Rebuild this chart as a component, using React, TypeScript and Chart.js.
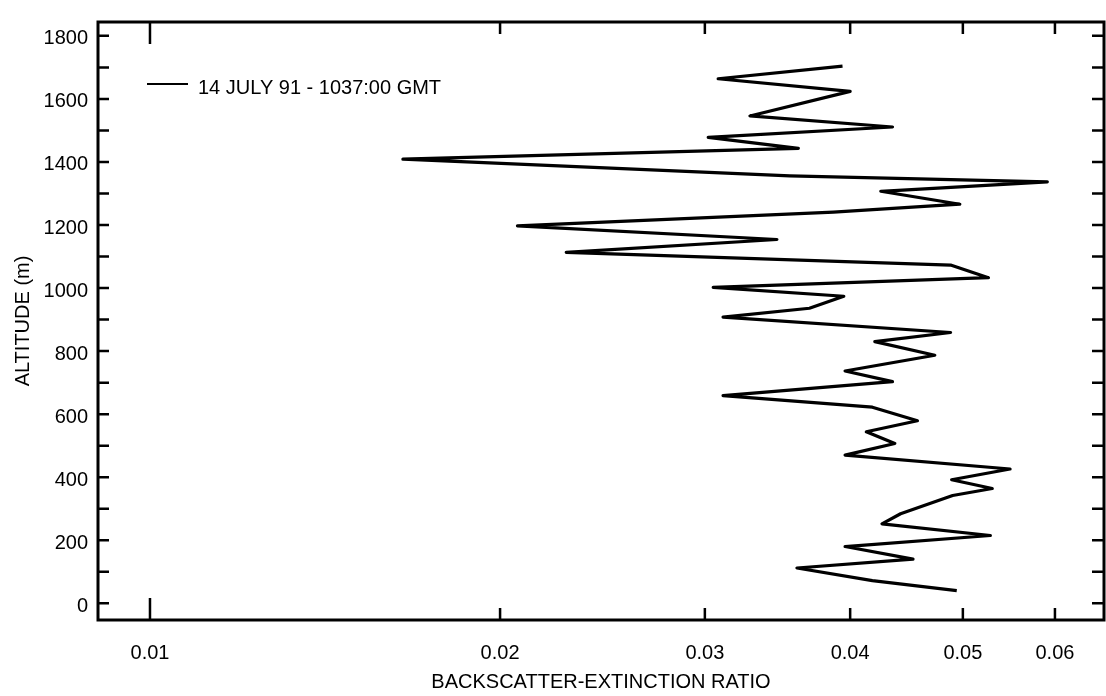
import React, { useEffect, useRef } from "react";
import { Chart, registerables } from "chart.js";

Chart.register(...registerables);

// Altitude (m) of each profile vertex, top to bottom
const altitudes = [
  1704, 1664, 1624, 1546, 1511, 1478, 1443, 1409, 1356, 1337, 1307, 1266, 1241,
  1197, 1154, 1113, 1073, 1033, 1002, 974, 936, 908, 859, 830, 787, 737, 703,
  659, 622, 579, 544, 507, 470, 426, 392, 364, 342, 284, 252, 215, 180, 140,
  112, 72, 40,
];

// Backscatter-extinction ratio at each vertex
const ratios = [
  0.0394, 0.0308, 0.04, 0.0328, 0.0435, 0.0302, 0.0361, 0.0165, 0.0355, 0.0591,
  0.0425, 0.0497, 0.0387, 0.0207, 0.0346, 0.0228, 0.0488, 0.0526, 0.0305,
  0.0395, 0.0369, 0.0311, 0.0488, 0.042, 0.0473, 0.0396, 0.0435, 0.0311,
  0.0418, 0.0457, 0.0413, 0.0437, 0.0396, 0.0549, 0.0489, 0.053, 0.049,
  0.0442, 0.0426, 0.0528, 0.0396, 0.0453, 0.036, 0.0418, 0.0494,
];

const xTickValues = [0.01, 0.02, 0.03, 0.04, 0.05, 0.06];
const xTickLabels = ["0.01", "0.02", "0.03", "0.04", "0.05", "0.06"];
const yTickValues = [0, 200, 400, 600, 800, 1000, 1200, 1400, 1600, 1800];
const yMinorTicks = [
  0, 100, 200, 300, 400, 500, 600, 700, 800, 900, 1000, 1100, 1200, 1300, 1400,
  1500, 1600, 1700, 1800,
];
const seriesLabel = "14 JULY 91 - 1037:00 GMT";
const xTitle = "BACKSCATTER-EXTINCTION RATIO";
const yTitle = "ALTITUDE (m)";

const FONT = "'Liberation Sans', Arial, Helvetica, sans-serif";

const framePlugin = {
  id: "frameTicksLegend",
  afterDraw(chart: any) {
    const { ctx, chartArea, scales } = chart;
    const { left, right, top, bottom } = chartArea;
    const xs = scales.x;
    const ys = scales.y;
    ctx.save();
    ctx.strokeStyle = "#000";
    ctx.lineWidth = 3;
    ctx.strokeRect(left, top, right - left, bottom - top);

    ctx.lineWidth = 2.5;
    ctx.beginPath();
    xTickValues.forEach((v) => {
      const px = xs.getPixelForValue(v);
      const lg = Math.log10(v);
      const len = Math.abs(lg - Math.round(lg)) < 1e-9 ? 22 : 12;
      ctx.moveTo(px, bottom);
      ctx.lineTo(px, bottom - len);
      ctx.moveTo(px, top);
      ctx.lineTo(px, top + len);
    });
    yMinorTicks.forEach((v) => {
      const py = ys.getPixelForValue(v);
      ctx.moveTo(left, py);
      ctx.lineTo(left + 11, py);
      ctx.moveTo(right, py);
      ctx.lineTo(right - 12, py);
    });
    ctx.stroke();

    // legend
    const ds = chart.data.datasets[0];
    ctx.lineWidth = 2;
    ctx.beginPath();
    ctx.moveTo(left + 49, top + 62);
    ctx.lineTo(left + 90, top + 62);
    ctx.stroke();
    ctx.fillStyle = "#000";
    ctx.font = `20px ${FONT}`;
    ctx.textBaseline = "middle";
    ctx.textAlign = "left";
    ctx.fillText(ds.label, left + 100, top + 66);
    ctx.restore();
  },
};

export default function App() {
  const ref = useRef<HTMLCanvasElement | null>(null);

  useEffect(() => {
    document.body.style.margin = "0";
    const canvas = ref.current;
    if (!canvas) return;
    Chart.defaults.font.family = FONT;
    Chart.defaults.color = "#000";

    const points = altitudes.map((a, i) => ({ x: ratios[i], y: a }));

    const chart = new Chart(canvas, {
      type: "line",
      data: {
        datasets: [
          {
            label: seriesLabel,
            data: points,
            borderColor: "#000",
            backgroundColor: "#000",
            borderWidth: 3.2,
            pointRadius: 0,
            tension: 0,
            fill: false,
            borderJoinStyle: "round",
          },
        ],
      },
      options: {
        animation: false,
        responsive: false,
        devicePixelRatio: 1,
        layout: { padding: { top: 10, right: 2, left: 0, bottom: 0 } },
        plugins: {
          legend: { display: false },
          tooltip: { enabled: false },
        },
        scales: {
          x: {
            type: "logarithmic",
            position: "bottom",
            min: 0.009022,
            max: 0.06612,
            bounds: "data",
            grid: { display: false, drawTicks: false },
            border: { display: false },
            afterBuildTicks: (s: any) => {
              s.ticks = xTickValues.map((v) => ({ value: v }));
            },
            ticks: {
              autoSkip: false,
              maxRotation: 0,
              padding: 21,
              color: "#000",
              font: { size: 20 },
              callback: (_v: any, i: number) => xTickLabels[i],
            },
            title: {
              display: true,
              text: xTitle,
              color: "#000",
              font: { size: 20 },
              padding: { top: 0, bottom: 2 },
            },
            afterFit: (s: any) => {
              s.height = 76;
            },
          },
          y: {
            type: "linear",
            position: "left",
            min: -53,
            max: 1844,
            bounds: "data",
            grid: { display: false, drawTicks: false },
            border: { display: false },
            afterBuildTicks: (s: any) => {
              s.ticks = yTickValues.map((v) => ({ value: v }));
            },
            ticks: {
              autoSkip: false,
              padding: 10,
              labelOffset: 3,
              color: "#000",
              font: { size: 20 },
              callback: (v: any) => String(v),
            },
            title: {
              display: true,
              text: yTitle,
              color: "#000",
              font: { size: 20 },
              padding: { top: 11, bottom: 0 },
            },
            afterFit: (s: any) => {
              s.width = 98;
            },
          },
        },
      },
      plugins: [framePlugin],
    } as any);

    return () => chart.destroy();
  }, []);

  return (
    <canvas
      ref={ref}
      width={1106}
      height={696}
      style={{ display: "block", width: 1106, height: 696 }}
    />
  );
}
